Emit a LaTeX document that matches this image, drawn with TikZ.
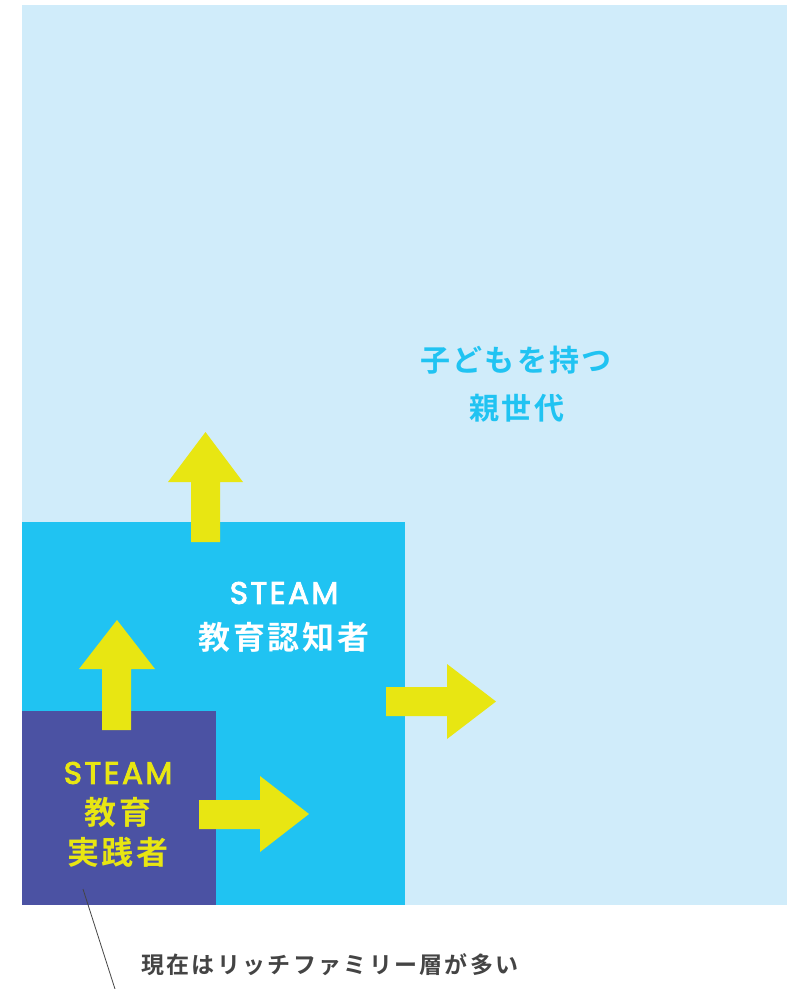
\documentclass[tikz,border=0pt]{standalone}
\usepackage{fontspec}
\newfontfamily\jpA{Noto Sans CJK JP Bold}[LetterSpace=8]
\newfontfamily\jpB{Noto Sans CJK JP Bold}[LetterSpace=10]
\newfontfamily\steamfont{Poppins}[LetterSpace=8, FakeBold=3]
\definecolor{lightblue}{HTML}{D0ECFA}
\definecolor{midblue}{HTML}{20C3F2}
\definecolor{darkblue}{HTML}{4B52A3}
\definecolor{arrowyellow}{HTML}{E8E612}
\definecolor{textgray}{HTML}{444444}
\tikzset{
  yarrow/.style={fill=arrowyellow, draw=none},
  lbl/.style={inner sep=0pt, align=center},
}
\begin{document}
\begin{tikzpicture}[x=1pt,y=-1pt]
\useasboundingbox (0,0) rectangle (787,989);
% regions
\fill[lightblue] (22,5) rectangle (787,905);
\fill[midblue] (22,522) rectangle (405,905);
\fill[darkblue] (22,711) rectangle (216,905);
% arrows
\fill[yarrow] (191,542) -- (191,482) -- (168,482) -- (205.5,432) -- (243,482) -- (220,482) -- (220,542) -- cycle;
\fill[yarrow] (102,730) -- (102,669) -- (79,669) -- (117,620) -- (155,669) -- (131,669) -- (131,730) -- cycle;
\fill[yarrow] (199,800) -- (260,800) -- (260,776) -- (309,814) -- (260,852) -- (260,829) -- (199,829) -- cycle;
\fill[yarrow] (386,687) -- (447,687) -- (447,664) -- (496,701.5) -- (447,739) -- (447,716) -- (386,716) -- cycle;
% texts
\node[lbl, text=midblue, font=\fontsize{30}{34}\jpA] (parent1) at (516,360) {子どもを持つ};
\node[lbl, text=midblue, font=\fontsize{30}{34}\jpA] (parent2) at (517,408) {親世代};
\node[lbl, text=white, font=\fontsize{31}{36}\steamfont] (aware1) at (284,593) {STEAM};
\node[lbl, text=white, font=\fontsize{32}{36}\jpA] (aware2) at (284,637) {教育認知者};
\node[lbl, text=arrowyellow, font=\fontsize{31}{36}\steamfont] (prac1) at (118,773) {STEAM};
\node[lbl, text=arrowyellow, font=\fontsize{32}{36}\jpA] (prac2) at (118,812) {教育};
\node[lbl, text=arrowyellow, font=\fontsize{32}{36}\jpA] (prac3) at (118,852) {実践者};
\node[lbl, text=textgray, font=\fontsize{23}{26}\jpB] (note) at (330,965) {現在はリッチファミリー層が多い};
% leader line
\coordinate (lineA) at (83,889);
\coordinate (lineB) at (115,989);
\draw[textgray, line width=0.8pt] (lineA) -- (lineB);
\end{tikzpicture}
\end{document}
